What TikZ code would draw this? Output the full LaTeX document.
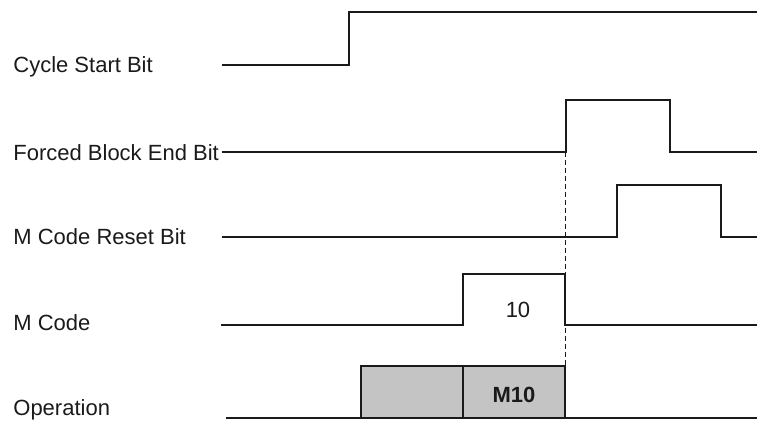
\documentclass[tikz,border=0pt]{standalone}
\usepackage{fontspec}
\setmainfont{Liberation Sans}
\usetikzlibrary{positioning}
\definecolor{ink}{HTML}{1A1A1A}
\definecolor{opshade}{HTML}{C4C4C4}
\tikzset{
  siglabel/.style={anchor=base west,inner sep=0pt,text=ink,
                   font=\fontsize{11}{13}\selectfont},
  valtext/.style={anchor=base,inner sep=0pt,text=ink,
                  font=\fontsize{11}{13}\selectfont},
  sigline/.style={draw=ink,line width=1.1pt,line join=miter},
  opbox/.style={draw=ink,fill=opshade,line width=1.1pt},
  markline/.style={draw=ink,dash pattern=on 2.5pt off 1.5pt,line width=0.5pt}
}

\begin{document}
\begin{tikzpicture}[x=0.5pt,y=-0.5pt]
  \useasboundingbox (0,0) rectangle (757,421);
  % signal names
  \node[siglabel] (csb) at (13,73) {Cycle Start Bit};
  \node[siglabel] (fbe) at (13,161) {Forced Block End Bit};
  \node[siglabel] (mcr) at (13,245) {M Code Reset Bit};
  \node[siglabel] (mcd) at (13,331) {M Code};
  \node[siglabel] (opr) at (13,416) {Operation};
  % operation boxes
  \draw[opbox] (361,418) rectangle (463,366);
  \draw[opbox] (463,418) rectangle (565,366);
  \node[valtext,font=\fontsize{11}{13}\selectfont\bfseries] (m10) at (514,403) {M10};
  % dashed marker
  \coordinate (mtop) at (565,152);
  \coordinate (mbot) at (565,366);
  \draw[markline] (mtop) -- (mbot);
  % waveforms
  \draw[sigline] (222,65) -- (349,65) -- (349,12) -- (757,12);
  \draw[sigline] (222,152) -- (566,152) -- (566,100) -- (670,100)
                 -- (670,152) -- (757,152);
  \draw[sigline] (222,237) -- (617,237) -- (617,185) -- (721,185)
                 -- (721,237) -- (757,237);
  \draw[sigline] (221,325) -- (463,325) -- (463,274) -- (565,274)
                 -- (565,325) -- (757,325);
  \node[valtext] (mval) at (518,318) {10};
  \draw[sigline] (226,418) -- (757,418);
\end{tikzpicture}
\end{document}
